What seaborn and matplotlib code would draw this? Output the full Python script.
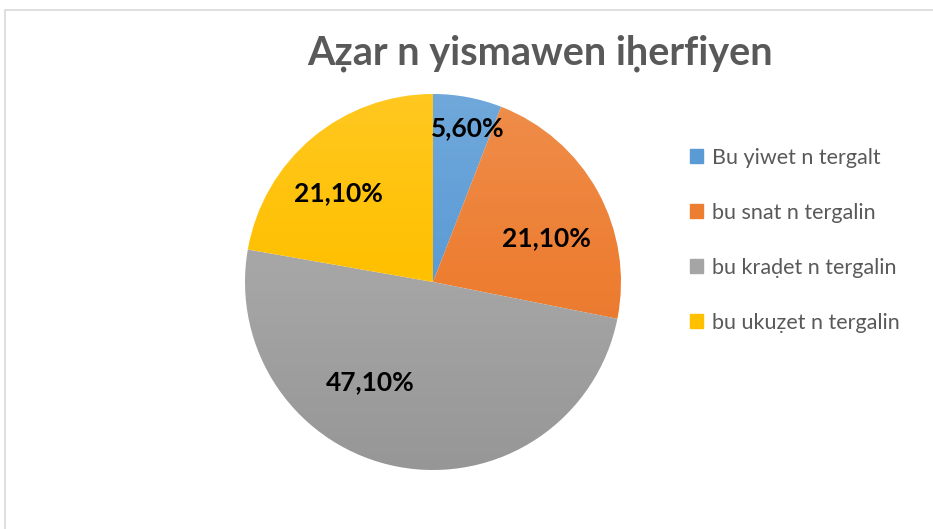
import numpy as np
import matplotlib
matplotlib.use('Agg')
import matplotlib.pyplot as plt
import matplotlib.patches as mpatches
import seaborn as sns

# ── Data ─────────────────────────────────────
categories = ['Bu yiwet n tergalt', 'bu snat n tergalin',
              'bu kraḍet n tergalin', 'bu ukuẓet n tergalin']
values = [5.6, 21.1, 47.1, 21.1]
labels = ['5,60%', '21,10%', '47,10%', '21,10%']
title = 'Aẓar n yismawen iḥerfiyen'

# ── Style ────────────────────────────────────
sns.set_theme(style='white')
FONTS = ['Lato', 'Open Sans', 'DejaVu Sans']
plt.rcParams['font.family'] = FONTS
colors = sns.color_palette(['#5B9BD5', '#ED7D31', '#A5A5A5', '#FFC000'])
GREY_TXT = '#595959'
# value label placement: radius fraction and angle nudge (deg) per slice
label_r = [0.84, 0.65, 0.63, 0.69]
label_da = [-2, -7.5, -21.5, 6.6]

W, H = 933, 529
fig = plt.figure(figsize=(W / 100, H / 100), dpi=100)
fig.patch.set_facecolor('white')

# chart area frame (top + left edges visible)
fig.patches.append(mpatches.Rectangle((4.5 / W, -0.1), 1.2, (H - 9.5) / H + 0.1,
                                      transform=fig.transFigure, fill=False,
                                      lw=1.2, ec='#d9d9d9'))

R = 188
cx, cy = 433, H - 282
ax = fig.add_axes([(cx - R) / W, (cy - R) / H, 2 * R / W, 2 * R / H])
wedges, _ = ax.pie(values, colors=colors, startangle=90, counterclock=False,
                   wedgeprops={'linewidth': 0})
ax.set_xlim(-1, 1)
ax.set_ylim(-1, 1)
ax.set_aspect('equal')

# soft top-light / bottom-dark shading like the office gradient fill
t = np.linspace(0, 1, 256)[:, None]
shade = np.zeros((256, 1, 4))
top = t < 0.5
shade[..., :3] = np.where(top[..., None], 1.0, 0.0)
shade[..., 3] = np.where(top, 0.13 * (1 - 2 * t), 0.09 * (2 * t - 1))
img = ax.imshow(shade, extent=(-1, 1, -1, 1), aspect='auto', zorder=1.5)
img.set_clip_path(mpatches.Circle((0, 0), 1, transform=ax.transData))
ax.set_xlim(-1, 1)
ax.set_ylim(-1, 1)

for w, lab, r, da in zip(wedges, labels, label_r, label_da):
    ang = np.deg2rad((w.theta1 + w.theta2) / 2 + da)
    ax.text(r * np.cos(ang), r * np.sin(ang), lab, ha='center', va='center',
            fontsize=19, fontweight='bold', color='black', zorder=3)

fig.text(540 / W, 1 - 53 / H, title, ha='center', va='center',
         fontsize=28.5, fontweight='bold', color=GREY_TXT)

handles = [mpatches.Patch(color=c, label=l) for c, l in zip(colors, categories)]
leg = fig.legend(handles=handles, loc='upper left',
                 bbox_to_anchor=(681 / W, 1 - 139 / H), frameon=False,
                 fontsize=15.5, handlelength=0.6, handleheight=0.6,
                 handletextpad=0.45, labelspacing=1.63, borderaxespad=0)
for t in leg.get_texts():
    t.set_color(GREY_TXT)

fig.savefig('out.png', dpi=100)
